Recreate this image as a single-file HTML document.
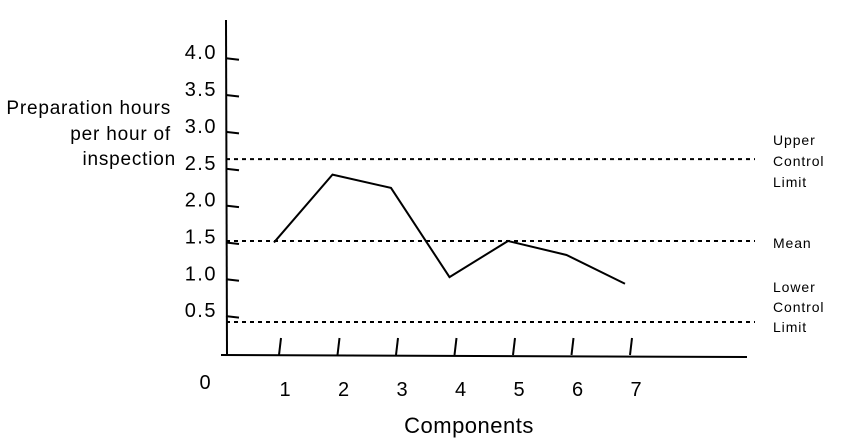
<!DOCTYPE html>
<html><head><meta charset="utf-8"><style>
html,body{margin:0;padding:0;background:#fff;}
svg{display:block;font-family:"Liberation Sans",Arial,sans-serif;}
</style></head><body>
<svg id="chart" width="866" height="448" viewBox="0 0 866 448" xmlns="http://www.w3.org/2000/svg">
<g id="g"></g>
</svg>
<script>
const categories = ["1","2","3","4","5","6","7"];
const values = [1.5, 2.42, 2.24, 1.03, 1.52, 1.33, 0.94];
const yTicks = [0.5,1.0,1.5,2.0,2.5,3.0,3.5,4.0];
const yTickLabels = ["0.5","1.0","1.5","2.0","2.5","3.0","3.5","4.0"];
const ucl = 2.63;
const mean = 1.52;
const lcl = 0.42;

const NS="http://www.w3.org/2000/svg";
const g=document.getElementById('g');
function y(v){return 353-v*73.7;}
function xt(i){return 279+58.5*i;}
function mk(tag,attrs,text){const e=document.createElementNS(NS,tag);for(const k in attrs)e.setAttribute(k,attrs[k]);if(text!=null)e.textContent=text;g.appendChild(e);return e;}

let e;
e=mk('line',{x1:226,y1:20,x2:227,y2:355,stroke:'#000','stroke-width':2});


e=mk('line',{x1:221,y1:355,x2:747,y2:357,stroke:'#000','stroke-width':2});



yTicks.forEach((v,i)=>{
  e=mk('line',{x1:226,y1:y(v),x2:239,y2:y(v)+1.5,stroke:'#000','stroke-width':2});
  
  
  e=mk('text',{x:217,y:y(v)+1,'font-size':20,'text-anchor':'end','letter-spacing':1.5},yTickLabels[i]);
  
  
});

categories.forEach((c,i)=>{
  const x=xt(i);
  e=mk('line',{x1:x,y1:355,x2:x+2,y2:338,stroke:'#000','stroke-width':2});
  
  
  e=mk('text',{x:x+6,y:396,'font-size':20,'text-anchor':'middle'},c);
  
  
});

[[ucl,'upper-control-limit-line'],[mean,'mean-line'],[lcl,'lower-control-limit-line']].forEach(([v,n])=>{
  e=mk('line',{x1:226,y1:y(v),x2:755,y2:y(v),stroke:'#000','stroke-width':2,'stroke-dasharray':'4 4'});
  
  
});

const pts=values.map((v,i)=>(xt(i)-5)+','+y(v)).join(' ');
e=mk('polyline',{points:pts,fill:'none',stroke:'#000','stroke-width':2});



function txt(x,yy,s,size,anchor,name,ls){
  e=mk('text',{x:x,y:yy,'font-size':size,'text-anchor':anchor,'letter-spacing':ls||0},s);
  
  
}
txt(171,114,'Preparation hours',19,'end','y-axis-title',0.8);
txt(171,140,'per hour of',19,'end','y-axis-title',0.8);
txt(176,165,'inspection',19,'end','y-axis-title',0.8);
txt(205,389,'0',20,'middle','origin-label');
txt(469,433,'Components',22,'middle','x-axis-title',0.5);
txt(773,145,'Upper',14,'start','ucl-label',0.9);
txt(773,166,'Control',14,'start','ucl-label',0.9);
txt(773,187,'Limit',14,'start','ucl-label',0.9);
txt(773,248,'Mean',14,'start','mean-label',0.9);
txt(773,292,'Lower',14,'start','lcl-label',0.9);
txt(773,312,'Control',14,'start','lcl-label',0.9);
txt(773,332,'Limit',14,'start','lcl-label',0.9);
</script>
</body></html>
